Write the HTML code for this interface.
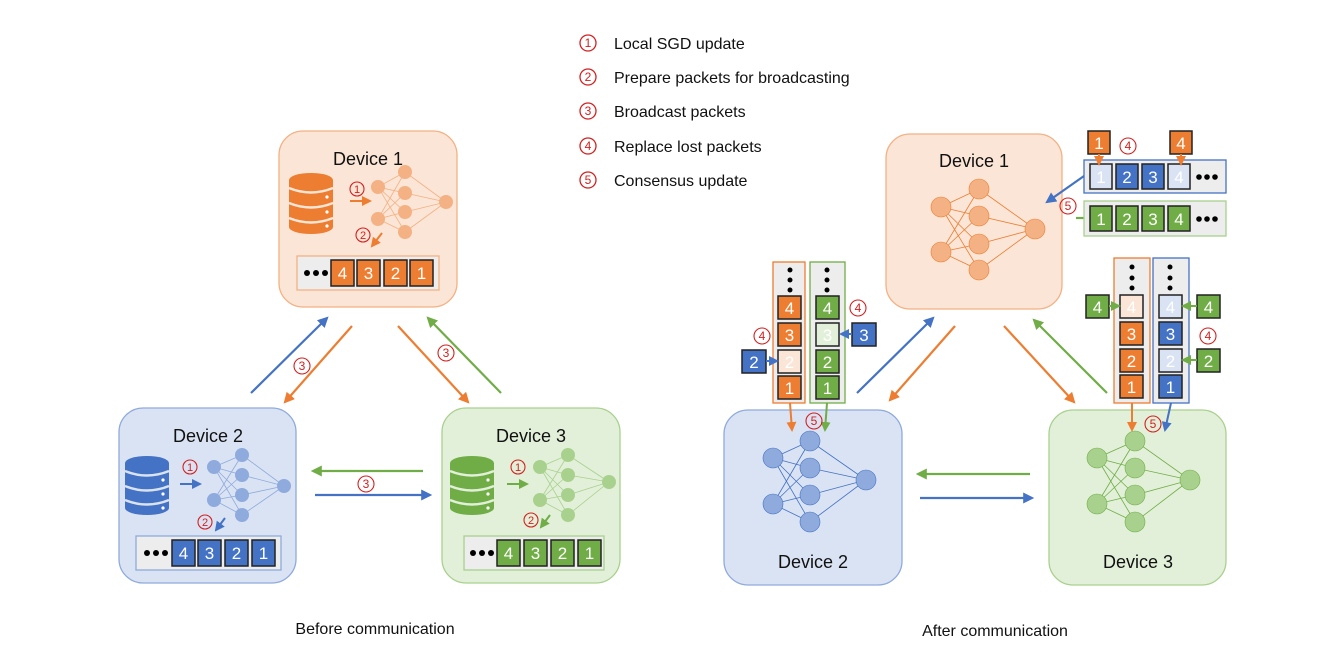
<!DOCTYPE html>
<html><head><meta charset="utf-8"><style>
html,body{margin:0;padding:0;background:#fff}
svg{display:block}
text{font-family:"Liberation Sans","DejaVu Sans",sans-serif}
.cn{font-size:12px;fill:#d42020;text-anchor:middle}
.lbl{font-size:18px;fill:#111;text-anchor:middle}
.leg{font-size:16px;fill:#111}
.pk{font-size:17px;fill:#fff;text-anchor:middle}
.pc{stroke:#222;stroke-width:1.5}
</style></head><body>
<svg width="1334" height="665" viewBox="0 0 1334 665" xmlns="http://www.w3.org/2000/svg">
<defs>
<marker id="ao" viewBox="0 0 10 10" refX="8" refY="5" markerWidth="5" markerHeight="5" orient="auto"><path d="M0,0L10,5L0,10z" fill="#ED7D31"/></marker>
<marker id="ab" viewBox="0 0 10 10" refX="8" refY="5" markerWidth="5" markerHeight="5" orient="auto"><path d="M0,0L10,5L0,10z" fill="#4472C4"/></marker>
<marker id="ag" viewBox="0 0 10 10" refX="8" refY="5" markerWidth="5" markerHeight="5" orient="auto"><path d="M0,0L10,5L0,10z" fill="#70AD47"/></marker>
</defs>

<!-- Legend -->
<g fill="none" stroke="#d42020" stroke-width="1.3">
<circle cx="588" cy="43" r="8"/><circle cx="588" cy="77" r="8"/><circle cx="588" cy="111" r="8"/><circle cx="588" cy="146" r="8"/><circle cx="588" cy="180" r="8"/>
</g>
<g class="cn"><text x="588" y="47">1</text><text x="588" y="81">2</text><text x="588" y="115">3</text><text x="588" y="150">4</text><text x="588" y="184">5</text></g>
<text class="leg" x="614" y="49">Local SGD update</text>
<text class="leg" x="614" y="83">Prepare packets for broadcasting</text>
<text class="leg" x="614" y="117">Broadcast packets</text>
<text class="leg" x="614" y="152">Replace lost packets</text>
<text class="leg" x="614" y="186">Consensus update</text>

<!-- ===== LEFT ===== -->
<rect x="279" y="131" width="178" height="176" rx="24" fill="#FBE5D6" stroke="#F4B183" stroke-width="1.3"/>
<rect x="119" y="408" width="177" height="175" rx="24" fill="#DAE3F3" stroke="#8FAADC" stroke-width="1.3"/>
<rect x="442" y="408" width="178" height="175" rx="24" fill="#E2F0D9" stroke="#A9D18E" stroke-width="1.3"/>
<text class="lbl" x="368" y="165">Device 1</text>
<text class="lbl" x="208" y="442">Device 2</text>
<text class="lbl" x="531" y="442">Device 3</text>

<!-- DB icons -->
<g fill="#ED7D31"><ellipse cx="311" cy="180" rx="22" ry="7"/><rect x="289" y="180" width="44" height="47"/><ellipse cx="311" cy="227" rx="22" ry="7"/></g>
<g fill="none" stroke="#FBE5D6" stroke-width="2.5"><path d="M289,188Q311,197 333,188M289,203Q311,212 333,203M289,218Q311,227 333,218"/></g>
<g fill="#fff"><circle cx="327" cy="197" r="1.6"/><circle cx="327" cy="212" r="1.6"/><circle cx="327" cy="226" r="1.6"/></g>

<g fill="#4472C4"><ellipse cx="147" cy="463" rx="22" ry="7"/><rect x="125" y="463" width="44" height="45"/><ellipse cx="147" cy="508" rx="22" ry="7"/></g>
<g fill="none" stroke="#DAE3F3" stroke-width="2.5"><path d="M125,471Q147,480 169,471M125,486Q147,495 169,486M125,500Q147,509 169,500"/></g>
<g fill="#fff"><circle cx="163" cy="480" r="1.6"/><circle cx="163" cy="494" r="1.6"/><circle cx="163" cy="508" r="1.6"/></g>

<g fill="#70AD47"><ellipse cx="472" cy="463" rx="22" ry="7"/><rect x="450" y="463" width="44" height="45"/><ellipse cx="472" cy="508" rx="22" ry="7"/></g>
<g fill="none" stroke="#E2F0D9" stroke-width="2.5"><path d="M450,471Q472,480 494,471M450,486Q472,495 494,486M450,500Q472,509 494,500"/></g>
<g fill="#fff"><circle cx="488" cy="480" r="1.6"/><circle cx="488" cy="494" r="1.6"/><circle cx="488" cy="508" r="1.6"/></g>

<!-- small nets -->
<g stroke="#F4B183" stroke-width="0.8">
<path d="M378,187L405,172M378,187L405,193M378,187L405,212M378,187L405,232M378,219L405,172M378,219L405,193M378,219L405,212M378,219L405,232M405,172L446,202M405,193L446,202M405,212L446,202M405,232L446,202"/></g>
<g fill="#F4B183"><circle cx="378" cy="187" r="7"/><circle cx="378" cy="219" r="7"/><circle cx="405" cy="172" r="7"/><circle cx="405" cy="193" r="7"/><circle cx="405" cy="212" r="7"/><circle cx="405" cy="232" r="7"/><circle cx="446" cy="202" r="7"/></g>
<g stroke="#8FAADC" stroke-width="0.8">
<path d="M214,467L242,455M214,467L242,475M214,467L242,495M214,467L242,515M214,500L242,455M214,500L242,475M214,500L242,495M214,500L242,515M242,455L284,486M242,475L284,486M242,495L284,486M242,515L284,486"/></g>
<g fill="#8FAADC"><circle cx="214" cy="467" r="7"/><circle cx="214" cy="500" r="7"/><circle cx="242" cy="455" r="7"/><circle cx="242" cy="475" r="7"/><circle cx="242" cy="495" r="7"/><circle cx="242" cy="515" r="7"/><circle cx="284" cy="486" r="7"/></g>
<g stroke="#A9D18E" stroke-width="0.8">
<path d="M540,467L568,455M540,467L568,475M540,467L568,495M540,467L568,515M540,500L568,455M540,500L568,475M540,500L568,495M540,500L568,515M568,455L609,482M568,475L609,482M568,495L609,482M568,515L609,482"/></g>
<g fill="#A9D18E"><circle cx="540" cy="467" r="7"/><circle cx="540" cy="500" r="7"/><circle cx="568" cy="455" r="7"/><circle cx="568" cy="475" r="7"/><circle cx="568" cy="495" r="7"/><circle cx="568" cy="515" r="7"/><circle cx="609" cy="482" r="7"/></g>

<!-- small arrows 1,2 -->
<line x1="350" y1="201" x2="370" y2="201" stroke="#ED7D31" stroke-width="2" marker-end="url(#ao)"/>
<line x1="382" y1="233" x2="372" y2="246" stroke="#ED7D31" stroke-width="2" marker-end="url(#ao)"/>
<line x1="180" y1="484" x2="200" y2="484" stroke="#4472C4" stroke-width="2" marker-end="url(#ab)"/>
<line x1="225" y1="518" x2="216" y2="530" stroke="#4472C4" stroke-width="2" marker-end="url(#ab)"/>
<line x1="507" y1="484" x2="527" y2="484" stroke="#70AD47" stroke-width="2" marker-end="url(#ag)"/>
<line x1="550" y1="515" x2="541" y2="527" stroke="#70AD47" stroke-width="2" marker-end="url(#ag)"/>
<g fill="none" stroke="#d42020" stroke-width="1.1">
<circle cx="357" cy="189" r="7"/><circle cx="363" cy="235" r="7"/><circle cx="190" cy="467" r="7"/><circle cx="205" cy="522" r="7"/><circle cx="518" cy="467" r="7"/><circle cx="531" cy="520" r="7"/>
<circle cx="302" cy="366" r="8"/><circle cx="446" cy="353" r="8"/><circle cx="366" cy="484" r="8"/>
</g>
<g class="cn" style="font-size:11px"><text x="357" y="193">1</text><text x="363" y="239">2</text><text x="190" y="471">1</text><text x="205" y="526">2</text><text x="518" y="471">1</text><text x="531" y="524">2</text></g>
<g class="cn"><text x="302" y="370">3</text><text x="446" y="357">3</text><text x="366" y="488">3</text></g>

<!-- packet bars left -->
<rect x="297" y="256" width="142" height="34" fill="#EDEDED" stroke="#F4B183" stroke-width="1.3"/>
<g fill="#000"><circle cx="307" cy="273" r="3"/><circle cx="316" cy="273" r="3"/><circle cx="325" cy="273" r="3"/></g>
<g fill="#ED7D31" class="pc"><rect x="331" y="260" width="23" height="26"/><rect x="357" y="260" width="23" height="26"/><rect x="384" y="260" width="23" height="26"/><rect x="410" y="260" width="23" height="26"/></g>
<g class="pk"><text x="342.5" y="279">4</text><text x="368.5" y="279">3</text><text x="395.5" y="279">2</text><text x="421.5" y="279">1</text></g>

<rect x="136" y="536" width="145" height="34" fill="#EDEDED" stroke="#8FAADC" stroke-width="1.3"/>
<g fill="#000"><circle cx="147" cy="553" r="3"/><circle cx="156" cy="553" r="3"/><circle cx="165" cy="553" r="3"/></g>
<g fill="#4472C4" class="pc"><rect x="172" y="540" width="23" height="26"/><rect x="198" y="540" width="23" height="26"/><rect x="225" y="540" width="23" height="26"/><rect x="252" y="540" width="23" height="26"/></g>
<g class="pk"><text x="183.5" y="559">4</text><text x="209.5" y="559">3</text><text x="236.5" y="559">2</text><text x="263.5" y="559">1</text></g>

<rect x="464" y="536" width="140" height="34" fill="#EDEDED" stroke="#A9D18E" stroke-width="1.3"/>
<g fill="#000"><circle cx="473" cy="553" r="3"/><circle cx="482" cy="553" r="3"/><circle cx="491" cy="553" r="3"/></g>
<g fill="#70AD47" class="pc"><rect x="497" y="540" width="23" height="26"/><rect x="524" y="540" width="23" height="26"/><rect x="551" y="540" width="23" height="26"/><rect x="578" y="540" width="23" height="26"/></g>
<g class="pk"><text x="508.5" y="559">4</text><text x="535.5" y="559">3</text><text x="562.5" y="559">2</text><text x="589.5" y="559">1</text></g>

<!-- big arrows left -->
<g stroke-width="2.2">
<line x1="251" y1="393" x2="327" y2="318" stroke="#4472C4" marker-end="url(#ab)"/>
<line x1="352" y1="326" x2="285" y2="402" stroke="#ED7D31" marker-end="url(#ao)"/>
<line x1="398" y1="326" x2="468" y2="402" stroke="#ED7D31" marker-end="url(#ao)"/>
<line x1="501" y1="393" x2="428" y2="318" stroke="#70AD47" marker-end="url(#ag)"/>
<line x1="423" y1="471" x2="313" y2="471" stroke="#70AD47" marker-end="url(#ag)"/>
<line x1="315" y1="495" x2="430" y2="495" stroke="#4472C4" marker-end="url(#ab)"/>
</g>
<text class="lbl" x="375" y="634" style="font-size:16px">Before communication</text>

<!-- ===== RIGHT ===== -->
<rect x="886" y="134" width="176" height="175" rx="24" fill="#FBE5D6" stroke="#F4B183" stroke-width="1.3"/>
<rect x="724" y="410" width="178" height="175" rx="24" fill="#DAE3F3" stroke="#8FAADC" stroke-width="1.3"/>
<rect x="1049" y="410" width="177" height="175" rx="24" fill="#E2F0D9" stroke="#A9D18E" stroke-width="1.3"/>
<text class="lbl" x="974" y="167">Device 1</text>
<text class="lbl" x="813" y="568">Device 2</text>
<text class="lbl" x="1138" y="568">Device 3</text>

<g stroke="#ED7D31" stroke-width="0.8">
<path d="M941,207L979,189M941,207L979,216M941,207L979,244M941,207L979,270M941,252L979,189M941,252L979,216M941,252L979,244M941,252L979,270M979,189L1035,229M979,216L1035,229M979,244L1035,229M979,270L1035,229"/></g>
<g fill="#F4B183" stroke="#ED7D31" stroke-width="0.6"><circle cx="941" cy="207" r="10"/><circle cx="941" cy="252" r="10"/><circle cx="979" cy="189" r="10"/><circle cx="979" cy="216" r="10"/><circle cx="979" cy="244" r="10"/><circle cx="979" cy="270" r="10"/><circle cx="1035" cy="229" r="10"/></g>
<g stroke="#4472C4" stroke-width="0.8">
<path d="M773,458L810,441M773,458L810,468M773,458L810,495M773,458L810,522M773,504L810,441M773,504L810,468M773,504L810,495M773,504L810,522M810,441L866,480M810,468L866,480M810,495L866,480M810,522L866,480"/></g>
<g fill="#8FAADC" stroke="#4472C4" stroke-width="0.6"><circle cx="773" cy="458" r="10"/><circle cx="773" cy="504" r="10"/><circle cx="810" cy="441" r="10"/><circle cx="810" cy="468" r="10"/><circle cx="810" cy="495" r="10"/><circle cx="810" cy="522" r="10"/><circle cx="866" cy="480" r="10"/></g>
<g stroke="#70AD47" stroke-width="0.8">
<path d="M1097,458L1135,441M1097,458L1135,468M1097,458L1135,495M1097,458L1135,522M1097,504L1135,441M1097,504L1135,468M1097,504L1135,495M1097,504L1135,522M1135,441L1190,480M1135,468L1190,480M1135,495L1190,480M1135,522L1190,480"/></g>
<g fill="#A9D18E" stroke="#70AD47" stroke-width="0.6"><circle cx="1097" cy="458" r="10"/><circle cx="1097" cy="504" r="10"/><circle cx="1135" cy="441" r="10"/><circle cx="1135" cy="468" r="10"/><circle cx="1135" cy="495" r="10"/><circle cx="1135" cy="522" r="10"/><circle cx="1190" cy="480" r="10"/></g>

<!-- big arrows right -->
<g stroke-width="2.2">
<line x1="857" y1="393" x2="933" y2="318" stroke="#4472C4" marker-end="url(#ab)"/>
<line x1="955" y1="326" x2="890" y2="400" stroke="#ED7D31" marker-end="url(#ao)"/>
<line x1="1004" y1="326" x2="1074" y2="402" stroke="#ED7D31" marker-end="url(#ao)"/>
<line x1="1107" y1="393" x2="1034" y2="320" stroke="#70AD47" marker-end="url(#ag)"/>
<line x1="1030" y1="474" x2="918" y2="474" stroke="#70AD47" marker-end="url(#ag)"/>
<line x1="920" y1="498" x2="1032" y2="498" stroke="#4472C4" marker-end="url(#ab)"/>
<line x1="1084" y1="176" x2="1047" y2="202" stroke="#4472C4" marker-end="url(#ab)"/>
<line x1="1084" y1="218" x2="1076" y2="218" stroke="#70AD47"/>
</g>

<!-- top-right packets -->
<rect x="1084" y="160" width="142" height="33" fill="#EDEDED" stroke="#4472C4" stroke-width="1.3"/>
<g class="pc"><rect x="1090" y="164" width="22" height="25" fill="#DAE3F3"/><rect x="1116" y="164" width="22" height="25" fill="#4472C4"/><rect x="1142" y="164" width="22" height="25" fill="#4472C4"/><rect x="1168" y="164" width="22" height="25" fill="#DAE3F3"/></g>
<g class="pk"><text x="1101" y="183">1</text><text x="1127" y="183">2</text><text x="1153" y="183">3</text><text x="1179" y="183">4</text></g>
<g fill="#000"><circle cx="1199" cy="177" r="2.8"/><circle cx="1207" cy="177" r="2.8"/><circle cx="1215" cy="177" r="2.8"/></g>
<g class="pc" fill="#ED7D31"><rect x="1088" y="131" width="22" height="23"/><rect x="1170" y="131" width="22" height="23"/></g>
<g class="pk"><text x="1099" y="149">1</text><text x="1181" y="149">4</text></g>
<line x1="1099" y1="154" x2="1099" y2="164" stroke="#ED7D31" stroke-width="2" marker-end="url(#ao)"/>
<line x1="1181" y1="154" x2="1181" y2="164" stroke="#ED7D31" stroke-width="2" marker-end="url(#ao)"/>

<rect x="1084" y="201" width="142" height="35" fill="#EDEDED" stroke="#A9D18E" stroke-width="1.3"/>
<g class="pc" fill="#70AD47"><rect x="1090" y="206" width="22" height="25"/><rect x="1116" y="206" width="22" height="25"/><rect x="1142" y="206" width="22" height="25"/><rect x="1168" y="206" width="22" height="25"/></g>
<g class="pk"><text x="1101" y="225">1</text><text x="1127" y="225">2</text><text x="1153" y="225">3</text><text x="1179" y="225">4</text></g>
<g fill="#000"><circle cx="1199" cy="219" r="2.8"/><circle cx="1207" cy="219" r="2.8"/><circle cx="1215" cy="219" r="2.8"/></g>

<!-- left columns (device 2) -->
<rect x="773" y="262" width="32" height="141" fill="#EDEDED" stroke="#ED7D31" stroke-width="1.3"/>
<rect x="810" y="262" width="35" height="141" fill="#EDEDED" stroke="#70AD47" stroke-width="1.3"/>
<g fill="#000"><circle cx="790" cy="270" r="2.5"/><circle cx="790" cy="280" r="2.5"/><circle cx="790" cy="290" r="2.5"/><circle cx="827" cy="270" r="2.5"/><circle cx="827" cy="280" r="2.5"/><circle cx="827" cy="290" r="2.5"/></g>
<g class="pc"><rect x="778" y="296" width="23" height="23" fill="#ED7D31"/><rect x="778" y="323" width="23" height="23" fill="#ED7D31"/><rect x="778" y="350" width="23" height="23" fill="#FBE5D6"/><rect x="778" y="376" width="23" height="23" fill="#ED7D31"/>
<rect x="816" y="296" width="23" height="23" fill="#70AD47"/><rect x="816" y="323" width="23" height="23" fill="#E2F0D9"/><rect x="816" y="350" width="23" height="23" fill="#70AD47"/><rect x="816" y="376" width="23" height="23" fill="#70AD47"/>
<rect x="742" y="350" width="24" height="23" fill="#4472C4"/><rect x="852" y="323" width="24" height="23" fill="#4472C4"/></g>
<g class="pk"><text x="789.5" y="314">4</text><text x="789.5" y="341">3</text><text x="789.5" y="368">2</text><text x="789.5" y="394">1</text>
<text x="827.5" y="314">4</text><text x="827.5" y="341">3</text><text x="827.5" y="368">2</text><text x="827.5" y="394">1</text>
<text x="754" y="368">2</text><text x="864" y="341">3</text></g>
<line x1="766" y1="361" x2="777" y2="361" stroke="#4472C4" stroke-width="2" marker-end="url(#ab)"/>
<line x1="852" y1="334" x2="841" y2="334" stroke="#4472C4" stroke-width="2" marker-end="url(#ab)"/>
<line x1="790" y1="403" x2="792" y2="430" stroke="#ED7D31" stroke-width="2" marker-end="url(#ao)"/>
<line x1="827" y1="403" x2="825" y2="430" stroke="#70AD47" stroke-width="2" marker-end="url(#ag)"/>

<!-- right columns (device 3) -->
<rect x="1114" y="258" width="36" height="145" fill="#EDEDED" stroke="#ED7D31" stroke-width="1.3"/>
<rect x="1153" y="258" width="36" height="145" fill="#EDEDED" stroke="#4472C4" stroke-width="1.3"/>
<g fill="#000"><circle cx="1132" cy="267" r="2.5"/><circle cx="1132" cy="278" r="2.5"/><circle cx="1132" cy="288" r="2.5"/><circle cx="1170" cy="267" r="2.5"/><circle cx="1170" cy="278" r="2.5"/><circle cx="1170" cy="288" r="2.5"/></g>
<g class="pc"><rect x="1120" y="295" width="23" height="23" fill="#FBE5D6"/><rect x="1120" y="322" width="23" height="23" fill="#ED7D31"/><rect x="1120" y="349" width="23" height="23" fill="#ED7D31"/><rect x="1120" y="375" width="23" height="23" fill="#ED7D31"/>
<rect x="1159" y="295" width="23" height="23" fill="#DAE3F3"/><rect x="1159" y="322" width="23" height="23" fill="#4472C4"/><rect x="1159" y="349" width="23" height="23" fill="#DAE3F3"/><rect x="1159" y="375" width="23" height="23" fill="#4472C4"/>
<rect x="1086" y="295" width="23" height="23" fill="#70AD47"/><rect x="1197" y="295" width="23" height="23" fill="#70AD47"/><rect x="1197" y="349" width="23" height="23" fill="#70AD47"/></g>
<g class="pk"><text x="1131.5" y="313">4</text><text x="1131.5" y="340">3</text><text x="1131.5" y="367">2</text><text x="1131.5" y="393">1</text>
<text x="1170.5" y="313">4</text><text x="1170.5" y="340">3</text><text x="1170.5" y="367">2</text><text x="1170.5" y="393">1</text>
<text x="1097.5" y="313">4</text><text x="1208.5" y="313">4</text><text x="1208.5" y="367">2</text></g>
<line x1="1109" y1="306" x2="1119" y2="306" stroke="#70AD47" stroke-width="2" marker-end="url(#ag)"/>
<line x1="1197" y1="306" x2="1183" y2="306" stroke="#70AD47" stroke-width="2" marker-end="url(#ag)"/>
<line x1="1197" y1="360" x2="1183" y2="360" stroke="#70AD47" stroke-width="2" marker-end="url(#ag)"/>
<line x1="1132" y1="403" x2="1132" y2="430" stroke="#ED7D31" stroke-width="2" marker-end="url(#ao)"/>
<line x1="1171" y1="403" x2="1165" y2="430" stroke="#4472C4" stroke-width="2" marker-end="url(#ab)"/>

<!-- circled 4/5 right -->
<g fill="none" stroke="#d42020" stroke-width="1.1">
<circle cx="1128" cy="146" r="8"/><circle cx="1068" cy="206" r="8"/><circle cx="762" cy="336" r="8"/><circle cx="858" cy="308" r="8"/><circle cx="814" cy="421" r="8"/><circle cx="1208" cy="336" r="8"/><circle cx="1153" cy="424" r="8"/>
</g>
<g class="cn"><text x="1128" y="150">4</text><text x="1068" y="210">5</text><text x="762" y="340">4</text><text x="858" y="312">4</text><text x="814" y="425">5</text><text x="1208" y="340">4</text><text x="1153" y="428">5</text></g>

<text class="lbl" x="995" y="636" style="font-size:16px">After communication</text>
</svg>
</body></html>
